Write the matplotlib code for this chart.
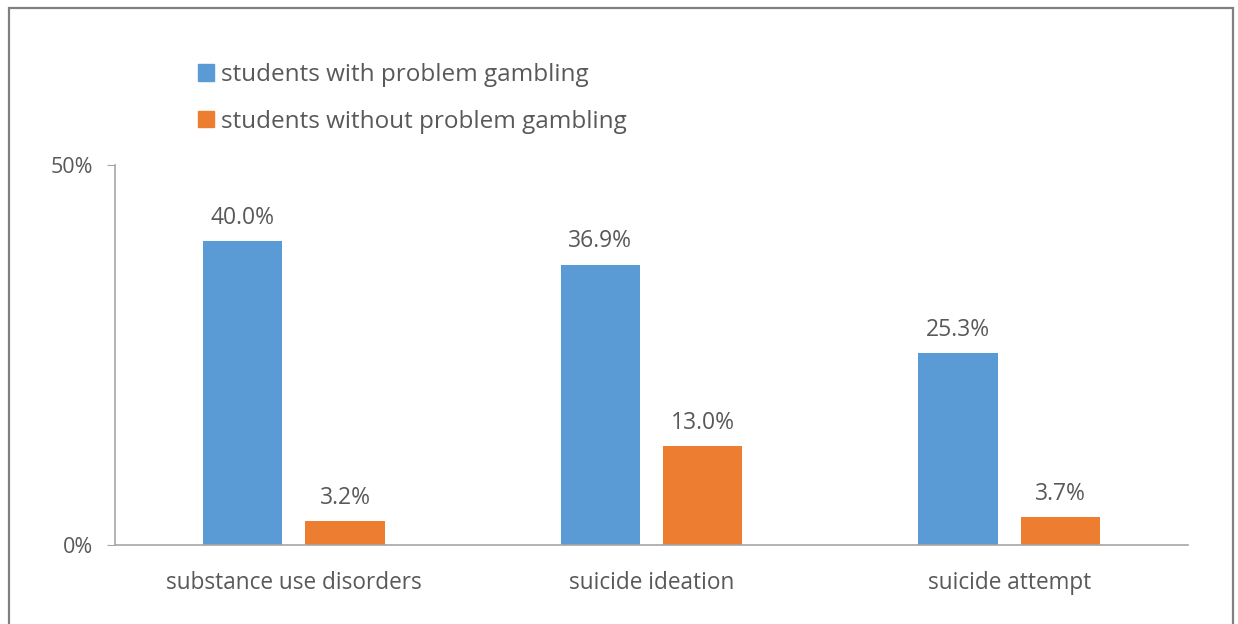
import matplotlib
matplotlib.use("Agg")
import matplotlib.pyplot as plt
import matplotlib.patches as mpatches
import numpy as np

categories = ["substance use disorders", "suicide ideation", "suicide attempt"]
series_names = ["students with problem gambling", "students without problem gambling"]
with_pg = [40.0, 36.9, 25.3]
without_pg = [3.2, 13.0, 3.7]
ytick_vals = [0, 50]
ytick_labels = ["0%", "50%"]

colors = ["#5B9BD5", "#ED7D31"]
txt = "#595959"
plt.rcParams['font.family'] = ['Open Sans', 'DejaVu Sans']

W, H = 1238, 624
fig = plt.figure(figsize=(W/100, H/100), dpi=100)
ax = fig.add_axes([115/W, 1-545/H, (1188-115)/W, (545-165)/H])

x = np.arange(len(categories))
off = 0.143
bw = 0.221
b1 = ax.bar(x - off, with_pg, bw, color=colors[0], label=series_names[0])
b2 = ax.bar(x + off, without_pg, bw, color=colors[1], label=series_names[1])
for bars, vals in ((b1, with_pg), (b2, without_pg)):
    for r, v in zip(bars, vals):
        ax.annotate(f"{v:.1f}%", (r.get_x() + r.get_width()/2, v), xytext=(0, 8),
                    textcoords="offset points", ha="center", va="bottom",
                    fontsize=16.5, color=txt)

ax.set_xlim(-0.5, 2.5)
ax.set_ylim(0, 50)
ax.set_yticks(ytick_vals)
ax.set_yticklabels(ytick_labels)
ax.set_xticks(x)
ax.set_xticklabels(categories)
for s in ("top", "right"):
    ax.spines[s].set_visible(False)
for s in ("left", "bottom"):
    ax.spines[s].set_color("#A6A6A6")
    ax.spines[s].set_linewidth(1.2)
ax.tick_params(axis="y", colors="#A6A6A6", labelcolor=txt, labelsize=15.5, length=6, pad=10)
ax.tick_params(axis="x", length=0, labelcolor=txt, labelsize=16.3, pad=19)

handles = [mpatches.Patch(color=c) for c in colors]
fig.legend(handles, series_names, loc="upper left", bbox_to_anchor=(198/W, 1-63/H),
           frameon=False, fontsize=17.5, labelcolor=txt, handlelength=0.66, handleheight=0.66,
           handletextpad=0.3, labelspacing=0.93, borderpad=0, borderaxespad=0)

fig.add_artist(mpatches.Rectangle((9/W, -0.05), (1233-9)/W, 1-8/H+0.05,
                                  transform=fig.transFigure, fill=False,
                                  edgecolor="#808080", linewidth=1.6))

fig.savefig("out.png", dpi=100)
